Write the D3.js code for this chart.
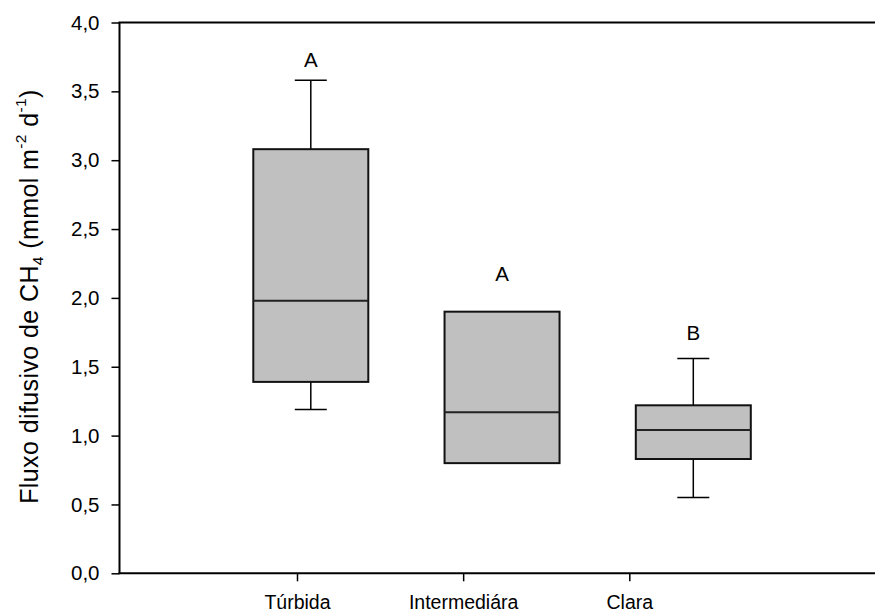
<!DOCTYPE html>
<html>
<head>
<meta charset="utf-8">
<script src="https://cdn.jsdelivr.net/npm/d3@7"></script>
<style>
  html, body { margin: 0; padding: 0; background: #fff; }
  svg { display: block; }
  text { font-family: "Liberation Sans", Arial, sans-serif; fill: #000; }
</style>
</head>
<body>
<svg id="chart" width="875" height="613"></svg>
<script>
// Diffusive CH4 flux by water type (box plot summaries)
const categories = ["Túrbida", "Intermediára", "Clara"];
const whiskerLow = [1.19, 0.80, 0.55];
const q1         = [1.39, 0.80, 0.83];
const median     = [1.98, 1.17, 1.04];
const q3         = [3.08, 1.90, 1.22];
const whiskerHigh= [3.58, 1.90, 1.56];
const groupLetters = ["A", "A", "B"];
const letterLevel  = [3.675, 2.12, 1.695];
const yTicks = [0, 0.5, 1, 1.5, 2, 2.5, 3, 3.5, 4];

const svg = d3.select("#chart");
const plotLeft = 119.5, plotTop = 22.5, plotBottom = 573.3, plotRight = 875;

const y = d3.scaleLinear().domain([0, 4]).range([plotBottom, plotTop]);
// box centres and category tick positions
const xBox = d3.scalePoint().domain(categories).range([310.8, 693.3]);
const xTick = d3.scalePoint().domain(categories).range([297, 629.3]);
const boxW = 115, capW = 32;

const fmt = d => d3.format(".1f")(d).replace(".", ",");

// Y axis
const yAxis = svg.append("g")
  .attr("transform", `translate(${plotLeft},0)`)
  .call(d3.axisLeft(y).tickValues(yTicks).tickFormat(fmt).tickSize(8).tickPadding(12));
yAxis.select(".domain").remove();
yAxis.selectAll("line").attr("stroke", "#000").attr("stroke-width", 1.5);
yAxis.selectAll("text").style("font-size", "20.5px").attr("fill", "#000");

// X axis
const xAxis = svg.append("g")
  .attr("transform", `translate(0,${plotBottom})`)
  .call(d3.axisBottom(xTick).tickSize(8).tickPadding(14));
xAxis.select(".domain").remove();
xAxis.selectAll("line").attr("stroke", "#000").attr("stroke-width", 1.5);
xAxis.selectAll("text").style("font-size", "19.5px").attr("fill", "#000");

// Frame lines: left, top, bottom
svg.append("line").attr("x1", plotLeft).attr("x2", plotLeft).attr("y1", plotTop).attr("y2", plotBottom)
  .attr("stroke", "#000").attr("stroke-width", 2);
svg.append("line").attr("x1", plotLeft - 1).attr("x2", plotRight).attr("y1", plotTop).attr("y2", plotTop)
  .attr("stroke", "#000").attr("stroke-width", 2);
svg.append("line").attr("x1", plotLeft - 1).attr("x2", plotRight).attr("y1", plotBottom).attr("y2", plotBottom)
  .attr("stroke", "#000").attr("stroke-width", 2);

// Boxes
const data = categories.map((c, i) => ({
  c, lo: whiskerLow[i], q1: q1[i], med: median[i], q3: q3[i], hi: whiskerHigh[i],
  letter: groupLetters[i], lv: letterLevel[i]
}));

const g = svg.append("g");
const box = g.selectAll("g.box").data(data).join("g").attr("class", "box");

// whiskers
box.append("line")
  .attr("x1", d => xBox(d.c)).attr("x2", d => xBox(d.c))
  .attr("y1", d => y(d.q3)).attr("y2", d => y(d.hi))
  .attr("stroke", "#000").attr("stroke-width", 1.5);
box.append("line")
  .attr("x1", d => xBox(d.c)).attr("x2", d => xBox(d.c))
  .attr("y1", d => y(d.q1)).attr("y2", d => y(d.lo))
  .attr("stroke", "#000").attr("stroke-width", 1.5);
// caps
box.append("line")
  .attr("x1", d => xBox(d.c) - capW / 2).attr("x2", d => xBox(d.c) + capW / 2)
  .attr("y1", d => y(d.hi)).attr("y2", d => y(d.hi))
  .attr("stroke", "#000").attr("stroke-width", 1.5);
box.append("line")
  .attr("x1", d => xBox(d.c) - capW / 2).attr("x2", d => xBox(d.c) + capW / 2)
  .attr("y1", d => y(d.lo)).attr("y2", d => y(d.lo))
  .attr("stroke", "#000").attr("stroke-width", 1.5);
// box body
box.append("rect")
  .attr("x", d => xBox(d.c) - boxW / 2).attr("width", boxW)
  .attr("y", d => y(d.q3)).attr("height", d => y(d.q1) - y(d.q3))
  .attr("fill", "#c0c0c0").attr("stroke", "#111").attr("stroke-width", 2);
// median
box.append("line")
  .attr("x1", d => xBox(d.c) - boxW / 2).attr("x2", d => xBox(d.c) + boxW / 2)
  .attr("y1", d => y(d.med)).attr("y2", d => y(d.med))
  .attr("stroke", "#222").attr("stroke-width", 2);
// significance letters
box.append("text")
  .attr("x", d => xBox(d.c)).attr("y", d => y(d.lv))
  .attr("text-anchor", "middle").style("font-size", "20.5px")
  .text(d => d.letter);

// Y axis title
const title = svg.append("text")
  .attr("transform", "translate(38,296.5) rotate(-90)")
  .attr("text-anchor", "middle")
  .style("font-size", "25px")
  .style("letter-spacing", "0.4px");
title.append("tspan").text("Fluxo difusivo de CH");
title.append("tspan").attr("dy", 5).style("font-size", "15.5px").text("4");
title.append("tspan").attr("dy", -5).text(" (mmol m");
title.append("tspan").attr("dy", -12).style("font-size", "15.5px").text("-2");
title.append("tspan").attr("dy", 12).text(" d");
title.append("tspan").attr("dy", -12).style("font-size", "15.5px").text("-1");
title.append("tspan").attr("dy", 12).text(")");
</script>
</body>
</html>
